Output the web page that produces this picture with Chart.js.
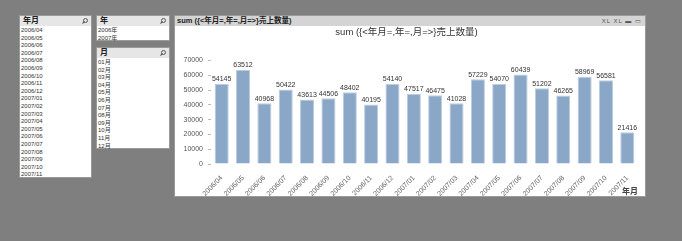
<!DOCTYPE html>
<html lang="ja">
<head>
<meta charset="UTF-8">
<script src="https://cdn.jsdelivr.net/npm/chart.js"></script>
<title>売上数量</title>
<style>
    body { margin: 0; width: 682px; height: 241px; background: #7f7f7f; position: relative; overflow: hidden;
           font-family: "Liberation Sans", "Noto Sans CJK JP", sans-serif; }
    .box { position: absolute; background: #fff; border: 1px solid #9a9a9a; box-sizing: border-box; }
    .box .head { height: 10px; background: #e6e6e6; font-size: 8px; font-weight: bold; line-height: 10px;
                 padding-left: 3px; color: #222; position: relative; }
    .box .item { font-size: 6px; line-height: 7.6px; height: 7.6px; padding-left: 1px; color: #333; }
    .lens { position: absolute; right: 3px; top: 2px; width: 3px; height: 3px; border: 1px solid #555; border-radius: 50%; }
    .lens:after { content: ""; position: absolute; left: -2px; top: 3px; width: 3px; height: 1px; background: #555; transform: rotate(-45deg); }
    #panel { position: absolute; left: 174px; top: 15px; width: 472px; height: 182px; background: #fff; border: 1px solid #9a9a9a; box-sizing: border-box; }
    #panel .bar { height: 10px; background: #d4d4d4; font-size: 7.5px; font-weight: bold; line-height: 10px; padding-left: 2px; color: #222; position: relative; }
    #panel .icons { position: absolute; right: 3px; top: 0; font-size: 6px; font-weight: normal; color: #555; letter-spacing: 1px; }
    #wrap { position: absolute; left: 0; top: 10px; width: 470px; height: 170px; }
</style>
</head>
<body>
<div class="box" style="left:19px; top:15px; width:73px; height:163px;">
    <div class="head">年月<span class="lens"></span></div>
    <div id="ymList" style="padding-top:1px"></div>
</div>
<div class="box" style="left:96px; top:15px; width:74px; height:26px;">
    <div class="head">年<span class="lens"></span></div>
    <div id="yList" style="padding-top:1px"></div>
</div>
<div class="box" style="left:96px; top:47px; width:74px; height:102px;">
    <div class="head">月<span class="lens"></span></div>
    <div id="mList" style="padding-top:1px"></div>
</div>
<div id="panel">
    <div class="bar">sum ({&lt;年月=,年=,月=&gt;}売上数量)<span class="icons">XL XL ▬ ▭</span></div>
    <div id="wrap"><canvas id="c"></canvas></div>
</div>
<script>
    const months = ["2006/04", "2006/05", "2006/06", "2006/07", "2006/08", "2006/09", "2006/10", "2006/11", "2006/12",
        "2007/01", "2007/02", "2007/03", "2007/04", "2007/05", "2007/06", "2007/07", "2007/08", "2007/09", "2007/10", "2007/11"];
    const sales = [54145, 63512, 40968, 50422, 43613, 44506, 48402, 40195, 54140,
        47517, 46475, 41028, 57229, 54070, 60439, 51202, 46265, 58969, 56581, 21416];
    const years = ["2006年", "2007年"];
    const monthNames = ["01月", "02月", "03月", "04月", "05月", "06月", "07月", "08月", "09月", "10月", "11月", "12月"];

    function fill(id, arr) {
        document.getElementById(id).innerHTML = arr.map(t => `<div class="item">${t}</div>`).join("");
    }
    fill("ymList", months);
    fill("yList", years);
    fill("mList", monthNames);

    const FONT = "'Liberation Sans', 'Noto Sans CJK JP', sans-serif";

    // value labels above each bar
    const valueLabels = {
        id: "valueLabels",
        afterDatasetsDraw(chart) {
            const ctx = chart.ctx;
            ctx.save();
            ctx.font = "7px " + FONT;
            ctx.fillStyle = "#333";
            ctx.textAlign = "center";
            ctx.textBaseline = "bottom";
            chart.getDatasetMeta(0).data.forEach((bar, i) => {
                ctx.fillText(sales[i], bar.x, bar.y - 1);
            });
            ctx.restore();
        }
    };

    new Chart(document.getElementById("c"), {
        type: "bar",
        data: {
            labels: months,
            datasets: [{
                data: sales,
                backgroundColor: "#8aa7c7",
                borderColor: "#bccde1",
                borderWidth: 1,
                categoryPercentage: 1,
                barPercentage: 0.66
            }]
        },
        options: {
            responsive: true,
            maintainAspectRatio: false,
            animation: false,
            layout: { padding: { left: 0, right: 7, top: 0, bottom: 0 } },
            plugins: {
                legend: { display: false },
                tooltip: { enabled: false },
                title: {
                    display: true,
                    text: "sum ({<年月=,年=,月=>}売上数量)",
                    color: "#333",
                    font: { family: FONT, size: 9.5, weight: "normal" },
                    padding: { top: 1, bottom: 22 }
                }
            },
            scales: {
                x: {
                    grid: { display: false },
                    border: { display: false },
                    ticks: {
                        color: "#666",
                        font: { family: FONT, size: 7 },
                        minRotation: 45,
                        maxRotation: 45,
                        padding: 2
                    },
                    title: {
                        display: true,
                        text: "年月",
                        align: "end",
                        color: "#444",
                        font: { family: FONT, size: 8, weight: "bold", lineHeight: 1 },
                        padding: 0
                    },
                    afterFit(scale) { scale.height = 32; }
                },
                y: {
                    min: 0,
                    max: 70000,
                    grid: { drawOnChartArea: false, drawTicks: true, tickLength: 3, color: "#bbb" },
                    border: { display: false },
                    ticks: {
                        stepSize: 10000,
                        color: "#555",
                        font: { family: FONT, size: 7 },
                        padding: 5,
                        callback: v => String(v)
                    },
                    afterFit(scale) { scale.width = 36; }
                }
            }
        },
        plugins: [valueLabels]
    });
</script>
</body>
</html>
